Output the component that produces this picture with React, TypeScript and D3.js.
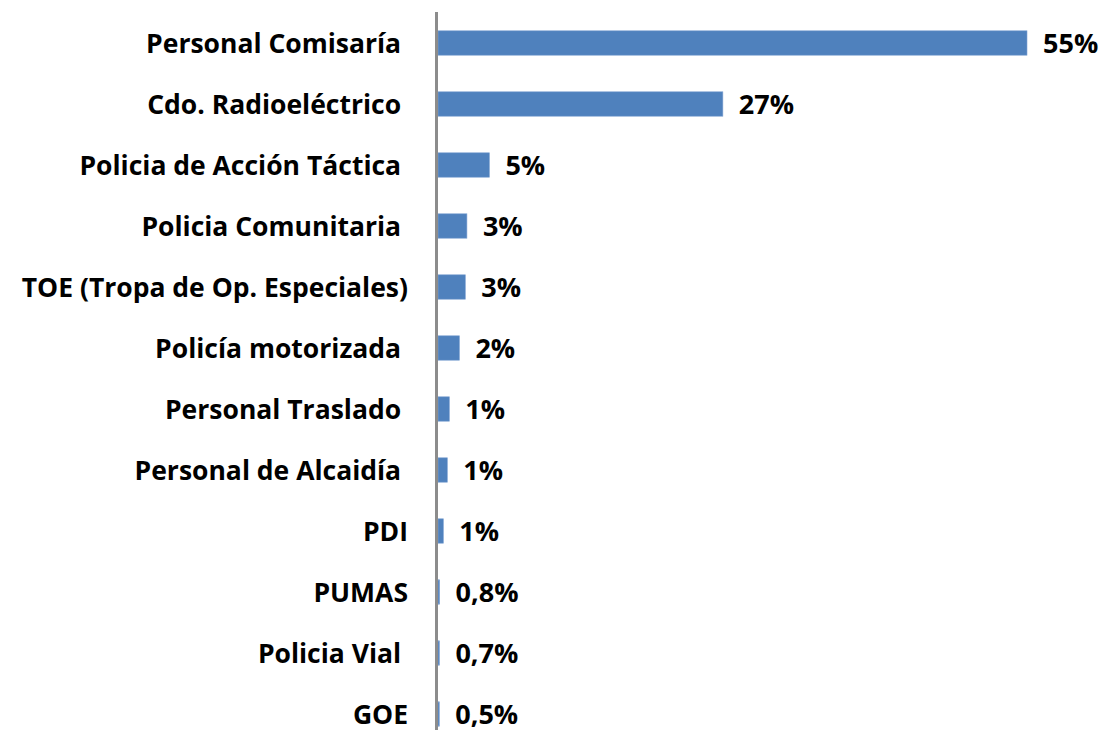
import React, { useRef, useEffect } from "react";
import * as d3 from "d3";

// categorías (de arriba hacia abajo); algunas llevan espacio final como en el original
const categories = [
  "Personal Comisaría ",
  "Cdo. Radioeléctrico ",
  "Policia de Acción Táctica ",
  "Policia Comunitaria ",
  "TOE (Tropa de Op. Especiales)",
  "Policía motorizada ",
  "Personal Traslado ",
  "Personal de Alcaidía ",
  "PDI",
  "PUMAS",
  "Policia Vial ",
  "GOE",
];

// largo de barra (%)
const values = [55, 26.6, 4.8, 2.7, 2.55, 2.0, 1.06, 0.87, 0.5, 0.15, 0.13, 0.12];

// etiquetas de datos tal como aparecen
const valueLabels = ["55%", "27%", "5%", "3%", "3%", "2%", "1%", "1%", "1%", "0,8%", "0,7%", "0,5%"];

export default function App() {
  const chartRef = useRef<HTMLDivElement>(null);

  useEffect(() => {
    document.body.style.margin = "0";

    const width = 1102;
    const height = 730;
    const axisX = 436.5;
    const font = "'Open Sans', sans-serif";

    const y = d3
      .scaleBand()
      .domain(categories)
      .range([12.5, 744.5])
      .paddingInner(0.6)
      .paddingOuter(0.3);

    const x = d3.scaleLinear().domain([0, 55]).range([438, 1027]);

    const svg = d3
      .select(chartRef.current)
      .html("")
      .append("svg")
      .attr("width", width)
      .attr("height", height)
      .style("display", "block");

    svg.append("rect").attr("width", width).attr("height", height).attr("fill", "#fff");

    // barras
    svg
      .selectAll(".bar")
      .data(values)
      .enter()
      .append("rect")
      .attr("class", "bar")
      .attr("x", x(0))
      .attr("y", (d, i) => y(categories[i])!)
      .attr("width", (d) => x(d) - x(0))
      .attr("height", y.bandwidth())
      .attr("fill", "#4F81BD")
      .attr("stroke", "#7FA2D2")
      .attr("stroke-width", 0.6);

    // eje vertical
    svg
      .append("line")
      .attr("x1", axisX)
      .attr("x2", axisX)
      .attr("y1", 12)
      .attr("y2", height)
      .attr("stroke", "#8C8C8C")
      .attr("stroke-width", 3);

    // etiquetas de categorías
    svg
      .selectAll(".cat")
      .data(categories)
      .enter()
      .append("text")
      .attr("class", "cat")
      .attr("x", 408)
      .attr("y", (d) => y(d)! + y.bandwidth() / 2 + 10)
      .attr("text-anchor", "end")
      .attr("font-family", font)
      .attr("font-weight", 700)
      .attr("font-size", 26.5)
      .attr("fill", "#000")
      .style("white-space", "pre")
      .text((d) => d);

    // etiquetas de valores
    svg
      .selectAll(".val")
      .data(values)
      .enter()
      .append("text")
      .attr("class", "val")
      .attr("x", (d) => x(d) + 16)
      .attr("y", (d, i) => y(categories[i])! + y.bandwidth() / 2 + 10)
      .attr("font-family", font)
      .attr("font-weight", 700)
      .attr("font-size", 27)
      .attr("fill", "#000")
      .text((d, i) => valueLabels[i]);
  }, []);

  return <div ref={chartRef} style={{ width: "1102px", height: "730px", overflow: "hidden" }}></div>;
}
